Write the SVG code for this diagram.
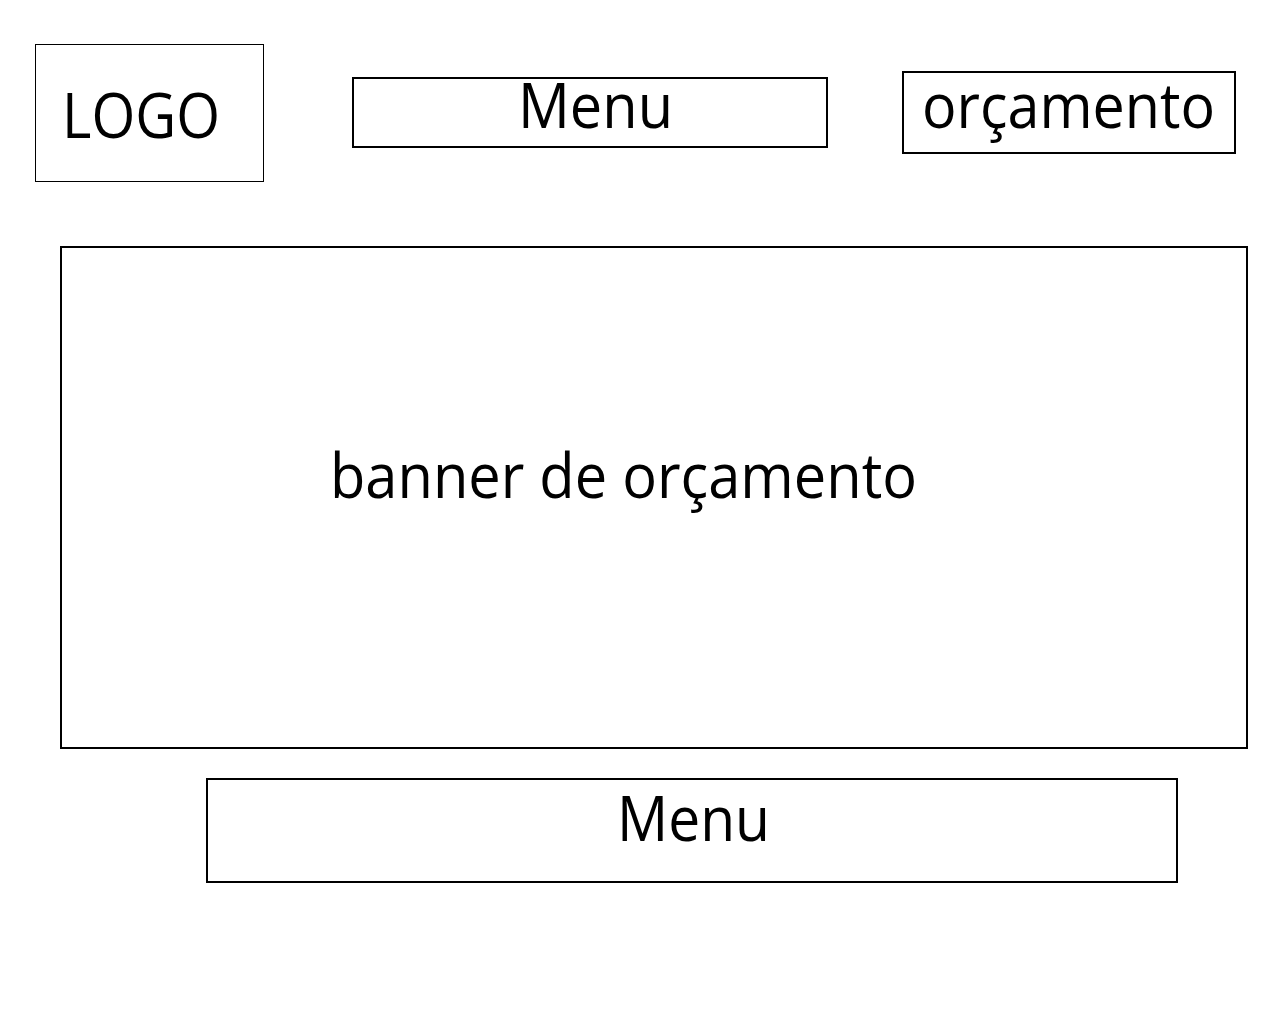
<svg xmlns="http://www.w3.org/2000/svg" width="1280" height="1024" viewBox="0 0 1280 1024">
<style>
.box{fill:#fff;stroke:#000;stroke-width:2}
.thin{stroke-width:1}
.t{font-family:"Open Sans","Noto Sans","Liberation Sans",sans-serif;font-size:62px;fill:#000}
</style>
<rect width="1280" height="1024" fill="#fff"/>
<g id="logo">
<rect class="box thin" x="35.5" y="44.5" width="228" height="137"/>
<text class="t" x="62" y="138" textLength="158" lengthAdjust="spacingAndGlyphs">LOGO</text>
</g>
<g id="menu-top">
<rect class="box" x="353" y="78" width="474" height="69"/>
<text class="t" x="518" y="128" textLength="155" lengthAdjust="spacingAndGlyphs">Menu</text>
</g>
<g id="orcamento">
<rect class="box" x="903" y="72" width="332" height="81"/>
<text class="t" x="922" y="128" textLength="293" lengthAdjust="spacingAndGlyphs">orçamento</text>
</g>
<g id="banner">
<rect class="box" x="61" y="247" width="1186" height="501"/>
<text class="t" x="330" y="498" textLength="587" lengthAdjust="spacingAndGlyphs">banner de orçamento</text>
</g>
<g id="menu-bottom">
<rect class="box" x="207" y="779" width="970" height="103"/>
<text class="t" x="617" y="841" textLength="153" lengthAdjust="spacingAndGlyphs">Menu</text>
</g>
<g id="connectors"/>
</svg>
